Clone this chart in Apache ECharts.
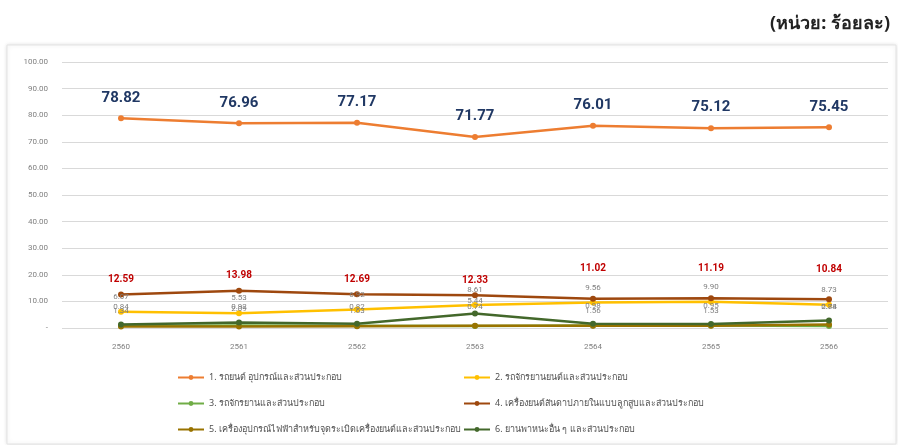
<!DOCTYPE html>
<html>
<head>
<meta charset="utf-8">
<script src="https://cdn.jsdelivr.net/npm/echarts@6/dist/echarts.min.js"></script>
<style>
  html, body { margin: 0; padding: 0; background: #fff; }
  #chart { width: 898px; height: 445px; }
</style>
</head>
<body>
<div id="chart"></div>
<script>
const years = ['2560', '2561', '2562', '2563', '2564', '2565', '2566']
const yTicks = [0, 10, 20, 30, 40, 50, 60, 70, 80, 90, 100]

const names = [
  '1. รถยนต์ อุปกรณ์และส่วนประกอบ',
  '2. รถจักรยานยนต์และส่วนประกอบ',
  '3. รถจักรยานและส่วนประกอบ',
  '4. เครื่องยนต์สันดาปภายในแบบลูกสูบและส่วนประกอบ',
  '5. เครื่องอุปกรณ์ไฟฟ้าสำหรับจุดระเบิดเครื่องยนต์และส่วนประกอบ',
  '6. ยานพาหนะอื่น ๆ และส่วนประกอบ'
]

const cars = [78.82, 76.96, 77.17, 71.77, 76.01, 75.12, 75.45]
const motorcycles = [6.07, 5.53, 6.92, 8.61, 9.56, 9.90, 8.73]
const bicycles = [0.84, 0.92, 0.82, 0.74, 0.98, 0.95, 0.78]
const engines = [12.59, 13.98, 12.69, 12.33, 11.02, 11.19, 10.84]
const ignition = [0.54, 0.61, 0.69, 0.81, 0.87, 0.88, 1.36]
const others = [1.34, 2.09, 1.63, 5.44, 1.56, 1.53, 2.84]

const colors = ['#ed7d31', '#ffc000', '#70ad47', '#9e480e', '#997300', '#43682b']

const chart = echarts.init(document.getElementById('chart'))

const smallLabel = (dist) => ({
  show: true,
  position: 'top',
  distance: dist,
  color: '#7f7f7f',
  fontSize: 8,
  fontFamily: 'Roboto',
  formatter: (p) => p.value.toFixed(2)
})

const mkSeries = (i, data, label) => ({
  name: names[i],
  type: 'line',
  data: data,
  symbol: 'circle',
  symbolSize: 6,
  lineStyle: { width: 2.5, color: colors[i] },
  itemStyle: { color: colors[i] },
  label: label || { show: false },
  z: 2
})

// lift the red labels where the motorcycle labels sit right under them
const engineData = engines.map((v, i) => ({
  value: v,
  label: { distance: v - motorcycles[i] < 3 ? 22 : 7 }
}))

chart.setOption({
  animation: false,
  textStyle: { fontFamily: 'Noto Sans, sans-serif' },
  graphic: [
    {
      type: 'rect',
      shape: { x: 7, y: 45, width: 889, height: 399 },
      style: {
        fill: '#fff',
        stroke: '#e3e3e3',
        lineWidth: 1,
        shadowBlur: 4,
        shadowColor: 'rgba(0,0,0,0.12)'
      },
      z: -10
    },
    {
      type: 'text',
      right: 8,
      top: 15,
      style: {
        text: '(หน่วย: ร้อยละ)',
        fill: '#222',
        fontSize: 18,
        fontWeight: 'bold',
        fontFamily: 'Noto Sans'
      }
    }
  ],
  grid: { left: 62, right: 10, top: 62, bottom: 117 },
  xAxis: {
    type: 'category',
    data: years,
    boundaryGap: true,
    axisLine: { show: false },
    axisTick: { show: false },
    axisLabel: { color: '#808080', fontSize: 8, margin: 15, fontFamily: 'Roboto' }
  },
  yAxis: {
    type: 'value',
    min: yTicks[0],
    max: yTicks[yTicks.length - 1],
    interval: 10,
    axisLine: { show: false },
    axisTick: { show: false },
    splitLine: { lineStyle: { color: '#d9d9d9', width: 1 } },
    axisLabel: {
      color: '#808080',
      fontSize: 8,
      margin: 14,
      fontFamily: 'Roboto',
      formatter: (v) => (v === 0 ? '-' : v.toFixed(2))
    }
  },
  legend: [
    {
      orient: 'vertical',
      left: 172,
      top: 368,
      itemGap: 17,
      itemWidth: 26,
      itemHeight: 6,
      textStyle: { color: '#505050', fontSize: 9 },
      data: [names[0], names[2], names[4]]
    },
    {
      orient: 'vertical',
      left: 458,
      top: 368,
      itemGap: 17,
      itemWidth: 26,
      itemHeight: 6,
      textStyle: { color: '#505050', fontSize: 9 },
      data: [names[1], names[3], names[5]]
    }
  ],
  series: [
    mkSeries(0, cars, {
      show: true,
      position: 'top',
      distance: 10,
      color: '#203864',
      fontSize: 15,
      fontWeight: 'bold',
      fontFamily: 'Roboto',
      formatter: (p) => p.value.toFixed(2)
    }),
    mkSeries(1, motorcycles, smallLabel(8)),
    mkSeries(2, bicycles, smallLabel(12)),
    mkSeries(3, engineData, {
      show: true,
      position: 'top',
      color: '#c00000',
      fontSize: 10,
      fontWeight: 'bold',
      fontFamily: 'Roboto',
      formatter: (p) => p.value.toFixed(2)
    }),
    mkSeries(4, ignition),
    mkSeries(5, others, smallLabel(6))
  ]
})

window.addEventListener('resize', () => chart.resize())
</script>
</body>
</html>
